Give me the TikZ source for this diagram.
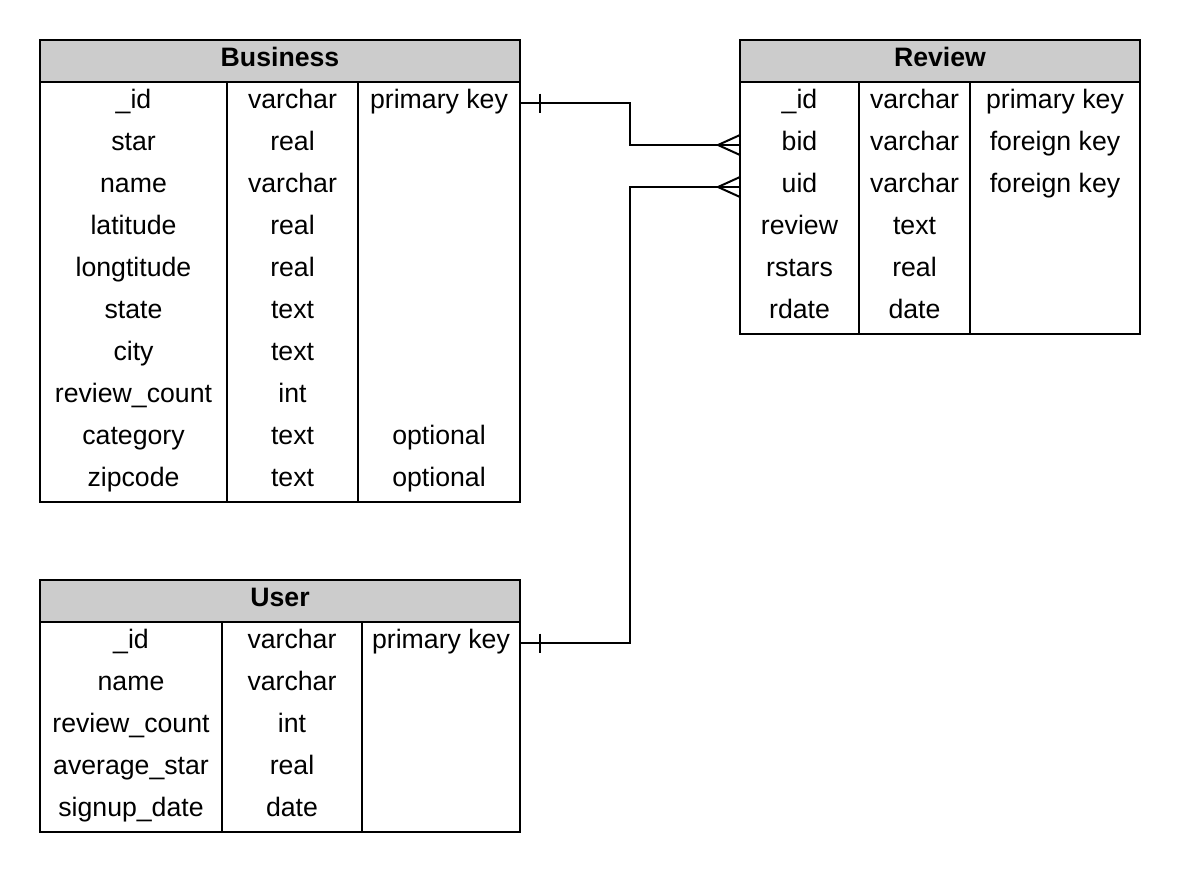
\documentclass[tikz,border=0pt]{standalone}
\usepackage{fontspec}
\setmainfont{Liberation Sans}
\definecolor{hdrgray}{HTML}{CCCCCC}
\newfontfamily\tabfam{Liberation Sans}
\newcommand{\tabfont}{\tabfam\fontsize{20pt}{24pt}\selectfont}
\begin{document}
\begin{tikzpicture}[x=0.75pt,y=-0.75pt,
  frame/.style={draw=black, line width=1.5pt},
  cell/.style={inner sep=0pt, outer sep=0pt, minimum height=31.5pt,
    text height=13.5pt, text depth=6pt, font=\tabfont},
  hdr/.style={cell, frame, fill=hdrgray, font=\tabfont\bfseries},
  conn/.style={draw=black, line width=1.5pt}]
\useasboundingbox (0,0) rectangle (1180,872);
% ---------- Business ----------
\node[hdr, minimum width=360pt] (bhdr) at (280,61) {Business};
\draw[frame] (40,82) rectangle (520,502);
\draw[frame] (227,82) -- (227,502);
\draw[frame] (358,82) -- (358,502);
\foreach \a/\b/\c [count=\i] in {\_id/varchar/primary key, star/real/, name/varchar/, latitude/real/, longtitude/real/, state/text/, city/text/, review\_count/int/, category/text/optional, zipcode/text/optional}{
  \node[cell, minimum width=140.25pt] (b\i-1) at (133.5,61+42*\i) {\a};
  \node[cell, minimum width=98.25pt] (b\i-2) at (292.5,61+42*\i) {\b};
  \node[cell, minimum width=121.5pt] (b\i-3) at (439,61+42*\i) {\c};
}
% ---------- Review ----------
\node[hdr, minimum width=300pt] (rhdr) at (940,61) {Review};
\draw[frame] (740,82) rectangle (1140,334);
\draw[frame] (859,82) -- (859,334);
\draw[frame] (970,82) -- (970,334);
\foreach \a/\b/\c [count=\i] in {\_id/varchar/primary key, bid/varchar/foreign key, uid/varchar/foreign key, review/text/, rstars/real/, rdate/date/}{
  \node[cell, minimum width=89.25pt] (r\i-1) at (799.5,61+42*\i) {\a};
  \node[cell, minimum width=83.25pt] (r\i-2) at (914.5,61+42*\i) {\b};
  \node[cell, minimum width=127.5pt] (r\i-3) at (1055,61+42*\i) {\c};
}
% ---------- User ----------
\node[hdr, minimum width=360pt] (uhdr) at (280,601) {User};
\draw[frame] (40,622) rectangle (520,832);
\draw[frame] (222,622) -- (222,832);
\draw[frame] (362,622) -- (362,832);
\foreach \a/\b/\c [count=\i] in {\_id/varchar/primary key, name/varchar/, review\_count/int/, average\_star/real/, signup\_date/date/}{
  \node[cell, minimum width=136.5pt] (u\i-1) at (131,601+42*\i) {\a};
  \node[cell, minimum width=105pt] (u\i-2) at (292,601+42*\i) {\b};
  \node[cell, minimum width=118.5pt] (u\i-3) at (441,601+42*\i) {\c};
}
% ---------- Connectors ----------
\coordinate (jog) at (630,0);
\draw[conn] (b1-3.east) -- (b1-3.east -| jog) |- (r2-1.west);
\draw[conn] (u1-3.east) -- (u1-3.east -| jog) |- (r3-1.west);
% one-side ticks
\draw[conn] (b1-3.east) ++(20,-9.5) -- ++(0,19);
\draw[conn] (u1-3.east) ++(20,-9.5) -- ++(0,19);
% crow's feet
\draw[conn] (r2-1.west) ++(0,-10) -- ++(-22,10) -- ++(22,10);
\draw[conn] (r3-1.west) ++(0,-10) -- ++(-22,10) -- ++(22,10);
\end{tikzpicture}
\end{document}
